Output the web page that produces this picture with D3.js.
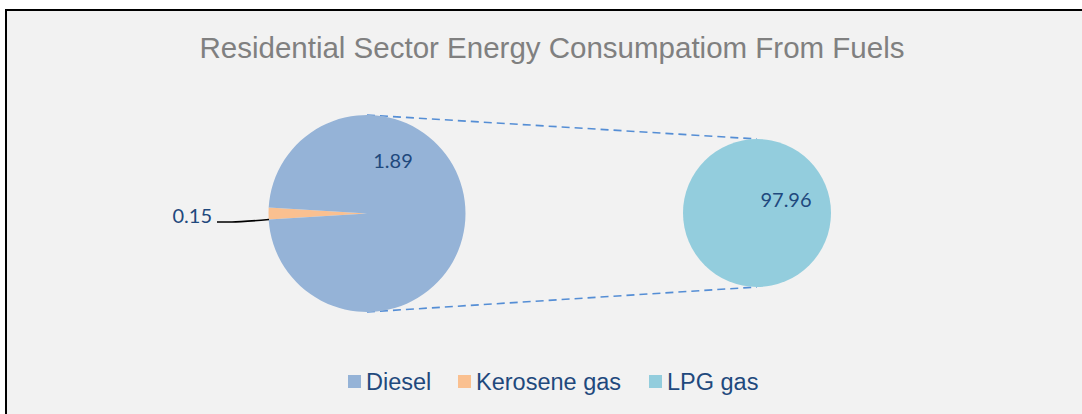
<!DOCTYPE html>
<html>
<head>
<meta charset="utf-8">
<script src="https://cdn.jsdelivr.net/npm/d3@7"></script>
<style>
  body { margin: 0; background: #ffffff; }
  svg { display: block; }
</style>
</head>
<body>
<div id="chart"></div>
<script>
// categories and their data labels
var categories = ["Diesel", "Kerosene gas", "LPG gas"];
var labelValues = [1.89, 0.15, 97.96];
var colors = ["#95b3d7", "#fac090", "#93cddd"];
// share of the first pie's circle
var mainShares = [98.1, 1.9];

var width = 1082, height = 414;

var svg = d3.select("#chart").append("svg")
  .attr("width", width)
  .attr("height", height);

// chart area + border (only top/left visible)
svg.append("rect")
  .attr("x", 6).attr("y", 10)
  .attr("width", width + 20).attr("height", height + 20)
  .attr("fill", "#f2f2f2")
  .attr("stroke", "#000").attr("stroke-width", 2);

svg.append("text")
  .attr("x", 552).attr("y", 58)
  .attr("text-anchor", "middle")
  .style("font-family", "Liberation Sans, Arial, sans-serif")
  .style("font-size", "29.5px")
  .attr("fill", "#808080")
  .text("Residential Sector Energy Consumpatiom From Fuels");

var main = {cx: 367, cy: 213.5, r: 98.5};
var second = {cx: 757, cy: 213, r: 74};

// connector lines
var conn = svg.append("g")
  .attr("stroke", "#558ed5")
  .attr("stroke-width", 1.6)
  .attr("stroke-dasharray", "8,5")
  .attr("fill", "none");
conn.append("line")
  .attr("x1", main.cx).attr("y1", main.cy - main.r)
  .attr("x2", second.cx).attr("y2", second.cy - second.r);
conn.append("line")
  .attr("x1", main.cx).attr("y1", main.cy + main.r)
  .attr("x2", second.cx).attr("y2", second.cy + second.r);

// main pie: kerosene wedge centred pointing left
var keroAngle = mainShares[1] / d3.sum(mainShares) * 2 * Math.PI;
var pie = d3.pie().sort(null)
  .startAngle(-Math.PI / 2 - keroAngle / 2)
  .endAngle(-Math.PI / 2 - keroAngle / 2 + 2 * Math.PI);
var arc = d3.arc().innerRadius(0).outerRadius(main.r);
var mainData = [mainShares[1], mainShares[0]];
var mainColors = [colors[1], colors[0]];

svg.append("g")
  .attr("transform", "translate(" + main.cx + "," + main.cy + ")")
  .selectAll("path")
  .data(pie(mainData))
  .enter().append("path")
  .attr("d", arc)
  .attr("fill", function(d, i) { return mainColors[i]; });

// secondary pie
var arc2 = d3.arc().innerRadius(0).outerRadius(second.r);
svg.append("g")
  .attr("transform", "translate(" + second.cx + "," + second.cy + ")")
  .selectAll("path")
  .data(d3.pie()([labelValues[2]]))
  .enter().append("path")
  .attr("d", arc2)
  .attr("fill", colors[2]);

// data labels
var labelFont = "Lato, Open Sans, sans-serif";
function dataLabel(x, y, txt, anchor) {
  svg.append("text")
    .attr("x", x).attr("y", y)
    .attr("text-anchor", anchor || "middle")
    .style("font-family", labelFont)
    .style("font-size", "20px")
    .attr("fill", "#1f497d")
    .text(txt);
}
dataLabel(393, 168, labelValues[0].toFixed(2));
dataLabel(212, 223, labelValues[1].toFixed(2), "end");
dataLabel(786, 207, labelValues[2].toFixed(2));

// leader line for kerosene
svg.append("path")
  .attr("d", "M217,222 L232,222 Q240,222 269,219.5")
  .attr("fill", "none")
  .attr("stroke", "#000")
  .attr("stroke-width", 1.6);

// legend
var legendX = [348, 458, 649];
var legend = svg.append("g");
categories.forEach(function(c, i) {
  legend.append("rect")
    .attr("x", legendX[i]).attr("y", 375)
    .attr("width", 13).attr("height", 13)
    .attr("fill", colors[i]);
  legend.append("text")
    .attr("x", legendX[i] + 18).attr("y", 390)
    .style("font-family", "Liberation Sans, Arial, sans-serif")
    .style("font-size", "23.5px")
    .attr("fill", "#1f497d")
    .text(c);
});
</script>
</body>
</html>
